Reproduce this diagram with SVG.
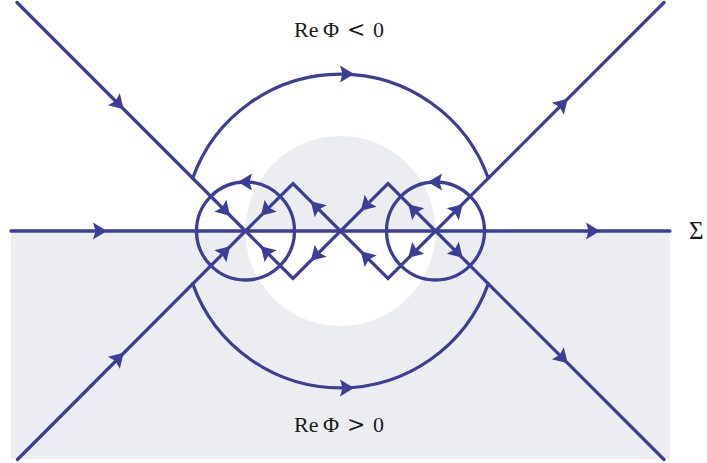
<svg xmlns="http://www.w3.org/2000/svg" xmlns:xlink="http://www.w3.org/1999/xlink" width="707" height="463" viewBox="0 0 707 463">
  <style>
    .ln{fill:none;stroke:#3d3e98;stroke-width:3.3;stroke-linecap:round;stroke-linejoin:miter}
    .ah{fill:#3d3e98}
    .lbl{font-family:"Liberation Serif","DejaVu Serif",serif;font-size:22px;fill:#1a1a1a}
    .rel{font-family:"DejaVu Serif",serif;font-size:22px}
  </style>
  <defs>
    <path id="ah" class="ah" d="M1 0 L-13 -8.5 L-10.5 0 L-13 8.5 Z"/>
  </defs>
  <g id="background">
    <rect x="11" y="231" width="659" height="228" fill="#ecedf0"/>
    <path d="M245.5 231 A95 95 0 0 1 435.5 231 Z" fill="#ecedf0"/>
    <path d="M245.5 231 A95 95 0 0 0 435.5 231 Z" fill="#ffffff"/>
  </g>
  <g id="connectors">
    <path class="ln" d="M11 231 H670"/>
    <path class="ln" d="M17 2.5 L245.5 231 L17.5 459.5"/>
    <path class="ln" d="M664 2.5 L435.5 231 L664 459.5"/>
    <path class="ln" d="M245.5 231 L293 183.5 L388 278.5 L435.5 231"/>
    <path class="ln" d="M245.5 231 L293 278.5 L388 183.5 L435.5 231"/>
    <circle class="ln" cx="245.5" cy="231" r="49"/>
    <circle class="ln" cx="435.5" cy="231" r="49"/>
    <path class="ln" d="M192.7 178.2 A157 157 0 0 1 488.3 178.2"/>
    <path class="ln" d="M192.7 283.8 A157 157 0 0 0 488.3 283.8"/>
  </g>
  <g id="arrows">
    <use xlink:href="#ah" transform="translate(106 231)"/>
    <use xlink:href="#ah" transform="translate(599 231)"/>
    <use xlink:href="#ah" transform="translate(353 74)"/>
    <use xlink:href="#ah" transform="translate(353 388)"/>
    <use xlink:href="#ah" transform="translate(239 182) rotate(180)"/>
    <use xlink:href="#ah" transform="translate(429 182) rotate(180)"/>
    <use xlink:href="#ah" transform="translate(123 108.5) rotate(45)"/>
    <use xlink:href="#ah" transform="translate(229.5 215) rotate(45)"/>
    <use xlink:href="#ah" transform="translate(123 353.5) rotate(-45)"/>
    <use xlink:href="#ah" transform="translate(229.5 247) rotate(-45)"/>
    <use xlink:href="#ah" transform="translate(261.5 215) rotate(135)"/>
    <use xlink:href="#ah" transform="translate(261.5 247) rotate(-135)"/>
    <use xlink:href="#ah" transform="translate(311.5 202) rotate(-135)"/>
    <use xlink:href="#ah" transform="translate(361.5 210) rotate(135)"/>
    <use xlink:href="#ah" transform="translate(311.5 260) rotate(135)"/>
    <use xlink:href="#ah" transform="translate(361.5 252) rotate(-135)"/>
    <use xlink:href="#ah" transform="translate(409 205) rotate(-135)"/>
    <use xlink:href="#ah" transform="translate(462 205) rotate(-45)"/>
    <use xlink:href="#ah" transform="translate(409 257) rotate(135)"/>
    <use xlink:href="#ah" transform="translate(462 257) rotate(45)"/>
    <use xlink:href="#ah" transform="translate(567 99.5) rotate(-45)"/>
    <use xlink:href="#ah" transform="translate(567 362.5) rotate(45)"/>
  </g>
  <g id="labels">
    <text class="lbl" y="36.5"><tspan x="294">Re</tspan><tspan x="323">Φ</tspan><tspan class="rel" x="347">&lt;</tspan><tspan x="373">0</tspan></text>
    <text class="lbl" y="432"><tspan x="294">Re</tspan><tspan x="323">Φ</tspan><tspan class="rel" x="347">&gt;</tspan><tspan x="373">0</tspan></text>
    <text class="lbl" x="689" y="239" style="font-size:25px">Σ</text>
  </g>
</svg>
